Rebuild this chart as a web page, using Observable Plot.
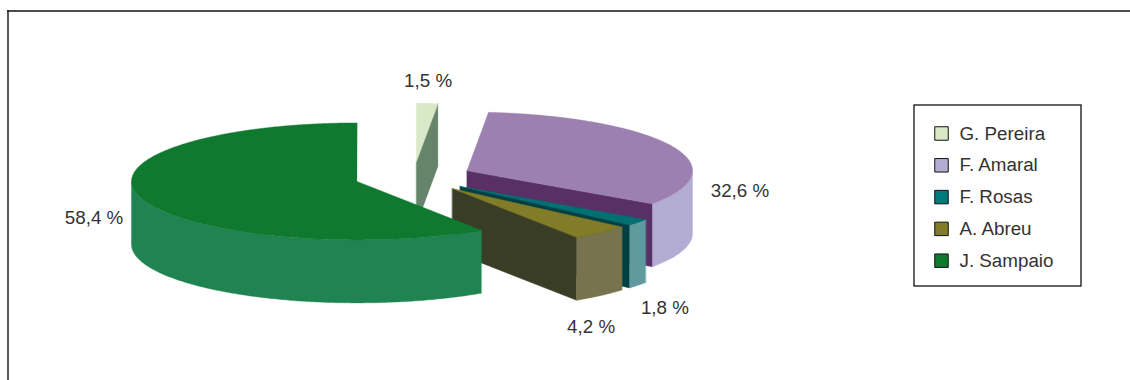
<!DOCTYPE html>
<html>
<head>
<meta charset="utf-8">
<style>html,body{margin:0;padding:0;background:#fff}svg{display:block}</style>
<script src="https://cdn.jsdelivr.net/npm/d3@7"></script>
<script src="https://cdn.jsdelivr.net/npm/@observablehq/plot@0.6"></script>
</head>
<body>
<div id="chart"></div>
<script>
// Data
const names = ["G. Pereira", "F. Amaral", "F. Rosas", "A. Abreu", "J. Sampaio"];
const shares = [1.5, 32.6, 1.8, 4.2, 58.4];
const shareLabels = ["1,5 %", "32,6 %", "1,8 %", "4,2 %", "58,4 %"];

// Styles
const topColors = ["#d9e9c8", "#9c80b0", "#007072", "#827b28", "#0f7a2f"];
const wallColors = ["#a3ba95", "#b3acd3", "#5f9a9e", "#78734f", "#1f8452"];
const cutColors = ["#66846a", "#583065", "#004042", "#3a3d26", "#0f5a28"];
const legendColors = ["#d9e9c8", "#b3acd3", "#007a7a", "#827b28", "#0f7a2f"];

// Projection of the exploded tilted pie
const cx = 413, cy = 176.5, rx = 225.5, ry = 58.5, depth = 63, explode = 59;
const labelShift = [[1, -22], [68.5, 45], [27, 23], [-9.5, 31], [-47, 20]];
const font = "'Liberation Sans', Arial, sans-serif";

const pie = d3.pie().sort(null).value(d => d).startAngle(0).endAngle(2 * Math.PI)(shares);
const marks = [];
const poly = (pts, color) => marks.push(Plot.line(pts, {
  x: "0", y: "1", fill: color, stroke: color, strokeWidth: 0.4, curve: "linear-closed"
}));
const arcPts = (c, a, b, dz = 0) => {
  const n = Math.max(2, Math.ceil(Math.abs(b - a) / 0.01));
  return d3.range(n + 1).map(i => {
    const t = a + (b - a) * i / n;
    return [c[0] + rx * Math.sin(t), c[1] - ry * Math.cos(t) + dz];
  });
};
const labels = [];
pie.forEach((s, i) => {
  const mid = (s.startAngle + s.endAngle) / 2;
  const c = [cx + explode * Math.sin(mid), cy - explode * (ry / rx) * Math.cos(mid)];
  const a = s.startAngle, b = s.endAngle;
  const outer = t => [c[0] + rx * Math.sin(t), c[1] - ry * Math.cos(t)];
  // the cut face at the end of the slice, seen when it turns toward the viewer
  if (b > Math.PI / 2 && b < Math.PI * 1.5 || b < Math.PI / 2) {
    const e = outer(b);
    poly([c, e, [e[0], e[1] + depth], [c[0], c[1] + depth]], cutColors[i]);
  }
  // the curved outer wall, front half only
  const w0 = Math.max(a, Math.PI / 2), w1 = Math.min(b, Math.PI * 1.5);
  if (w1 > w0) {
    poly([...arcPts(c, w0, w1), ...arcPts(c, w1, w0, depth)], wallColors[i]);
  }
  // the top of the slice
  poly([c, ...arcPts(c, a, b)], topColors[i]);
  const anchor = outer(mid);
  const front = Math.cos(mid) < 0 && Math.abs(Math.sin(mid)) < 0.9 ? depth : 0;
  labels.push({
    x: anchor[0] + labelShift[i][0],
    y: anchor[1] + front + labelShift[i][1],
    text: shareLabels[i]
  });
});

// Legend box
const legendBox = {x1: 914, x2: 1081, y1: 105, y2: 286};
const legend = names.map((name, i) => ({
  name, color: legendColors[i],
  y: 133 + i * 31.8
}));

const plot = Plot.plot({
  width: 1130, height: 380,
  margin: 0,
  x: {domain: [0, 1130], range: [0, 1130], axis: null},
  y: {domain: [0, 380], range: [0, 380], axis: null},
  style: {fontFamily: font, background: "#fff"},
  marks: [
    Plot.ruleY([10.5], {x1: 7, x2: 1130, stroke: "#111", strokeWidth: 1.5}),
    Plot.ruleX([7.5], {y1: 10, y2: 380, stroke: "#222", strokeWidth: 1.5}),
    ...marks,
    Plot.text(labels, {x: "x", y: "y", text: "text", fontSize: 18.8, fill: "#333", textAnchor: "middle", lineAnchor: "middle"}),
    Plot.rect([legendBox], {x1: "x1", x2: "x2", y1: "y1", y2: "y2", fill: "#fff", stroke: "#111", strokeWidth: 1.3}),
    Plot.dot(legend, {x: () => 941, y: "y", symbol: "square", r: 7.6, fill: "color", stroke: "#111", strokeWidth: 1}),
    Plot.text(legend, {x: () => 959, y: "y", text: "name", fontSize: 18.8, fill: "#333", textAnchor: "start", lineAnchor: "middle"})
  ]
});
document.getElementById("chart").appendChild(plot);
</script>
</body>
</html>
